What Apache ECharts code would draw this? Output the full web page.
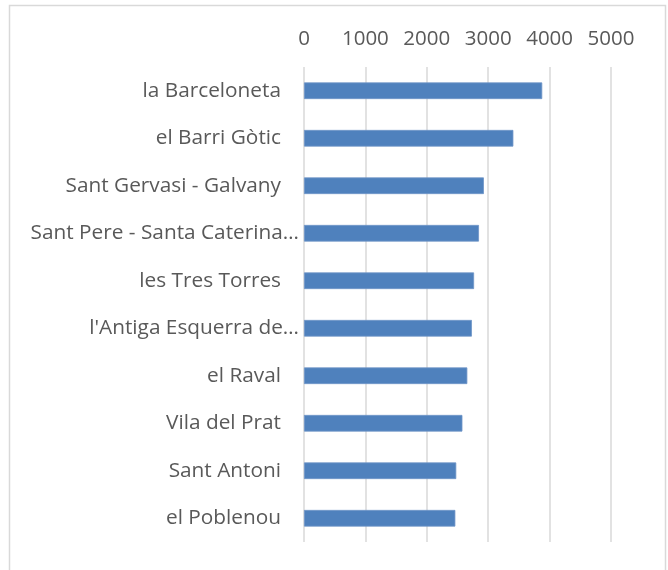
<!DOCTYPE html>
<html>
<head>
<meta charset="utf-8">
<script src="https://cdn.jsdelivr.net/npm/echarts@6/dist/echarts.min.js"></script>
<style>
html,body{margin:0;padding:0;background:#fff;}
#chart{width:668px;height:570px;}
</style>
</head>
<body>
<div id="chart"></div>
<script>
const categories = [
  "la Barceloneta",
  "el Barri Gòtic",
  "Sant Gervasi - Galvany",
  "Sant Pere - Santa Caterina…",
  "les Tres Torres",
  "l'Antiga Esquerra de…",
  "el Raval",
  "Vila del Prat",
  "Sant Antoni",
  "el Poblenou"
];
const values = [3880, 3410, 2930, 2850, 2770, 2735, 2660, 2580, 2480, 2465];
const truncated = ["Sant Pere - Santa Caterina…", "l'Antiga Esquerra de…"];

const FONT = 'Open Sans';
const FS = 20.8;
const chart = echarts.init(document.getElementById('chart'));
chart.setOption({
  animation: false,
  backgroundColor: '#fff',
  graphic: [{
    type: 'rect',
    shape: {x: 9.5, y: 5.5, width: 656, height: 600},
    style: {fill: 'none', stroke: '#d9d9d9', lineWidth: 1.5},
    silent: true
  }],
  grid: {left: 304, right: 57, top: 67, bottom: 28, containLabel: false},
  xAxis: {
    type: 'value',
    position: 'top',
    min: 0, max: 5000, interval: 1000,
    axisLine: {show: false},
    axisTick: {show: false},
    splitLine: {show: true, lineStyle: {color: '#d9d9d9', width: 1.5}},
    axisLabel: {color: '#595959', fontSize: 20.5, fontFamily: FONT, margin: 17,
      formatter: function (v) { return String(v); }}
  },
  yAxis: {
    type: 'category',
    inverse: true,
    data: categories,
    axisLine: {show: false},
    axisTick: {show: false},
    axisLabel: {
      color: '#595959', fontSize: FS, fontFamily: FONT, margin: 5,
      formatter: function (v) {
        return truncated.indexOf(v) >= 0 ? v : '{p|' + v + '}';
      },
      rich: {p: {padding: [0, 18, 0, 0], color: '#595959', fontSize: FS, fontFamily: FONT}}
    }
  },
  series: [{
    type: 'bar',
    data: values,
    barWidth: '35%',
    itemStyle: {color: '#4f81bd', borderColor: '#7096c8', borderWidth: 0.8}
  }]
});
</script>
</body>
</html>
